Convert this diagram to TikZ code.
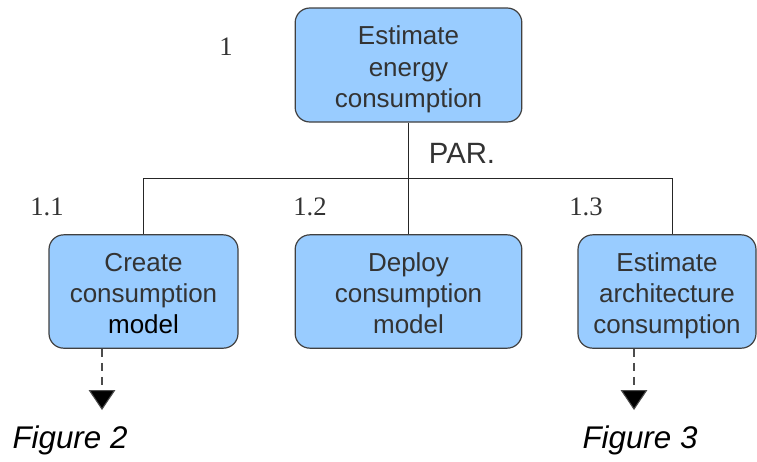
\documentclass[tikz,border=0pt]{standalone}
\usepackage{fontspec}
\setmainfont{Liberation Sans}
\newfontfamily\numfont{Liberation Serif}
\usetikzlibrary{arrows.meta}
\definecolor{boxblue}{RGB}{153,204,255}
\definecolor{textgray}{RGB}{51,51,51}
\newcommand{\firstline}{\rule{0pt}{23.5pt}}
\begin{document}
\begin{tikzpicture}[x=0.75pt,y=-0.75pt,
    taskbox/.style={draw=black!75,line width=0.9pt,fill=boxblue,rounded corners=11pt,
      align=center,text=textgray,font=\fontsize{19.5}{23.3}\selectfont,inner sep=0pt},
    numlabel/.style={text=textgray,font=\numfont\fontsize{20}{22}\selectfont},
    figlabel/.style={font=\itshape\fontsize{23.5}{26}\selectfont},
    link/.style={draw=black!85,line width=0.7pt},
    figarrow/.style={draw=black!70,line width=0.8pt,dash pattern=on 6pt off 4.5pt,
      -{Triangle[width=20pt,length=15pt,fill=black]}}]
    \useasboundingbox (0,0) rectangle (757,461);

    \node[taskbox,minimum width=170pt,minimum height=85.5pt] (top) at (408.5,65) {\firstline Estimate\\energy\\consumption\strut};
    \node[numlabel] (n1) at (226,47) {1};

    \node[taskbox,minimum width=141.75pt,minimum height=85pt] (model) at (143.5,291.5) {\firstline Create\\consumption\\\textcolor{black}{model}\strut};
    \node[taskbox,minimum width=170pt,minimum height=85pt] (deploy) at (408.5,291.5) {\firstline Deploy\\consumption\\model\strut};
    \node[taskbox,minimum width=133.5pt,minimum height=85pt] (arch) at (667,291.5) {\firstline Estimate\\architecture\\consumption\strut};

    \node[numlabel] (n11) at (47,207) {1.1};
    \node[numlabel] (n12) at (310,207) {1.2};
    \node[numlabel] (n13) at (586,207) {1.3};
    \node[text=textgray,font=\fontsize{22}{24}\selectfont] (par) at (462,153) {PAR.};

    % tree lines
    \coordinate (bar) at (672,178);
    \draw[link] (top.south) -- (deploy.north);
    \draw[link] (model.north) |- (bar) -- (bar |- arch.north);

    % references to other figures
    \coordinate (tip2) at (102,410);
    \coordinate (tip3) at (634,410);
    \draw[figarrow] (tip2 |- model.south) -- (tip2);
    \draw[figarrow] (tip3 |- arch.south) -- (tip3);
    \node[figlabel] (fig2) at (70,440) {Figure 2};
    \node[figlabel] (fig3) at (640,440) {Figure 3};
\end{tikzpicture}
\end{document}
